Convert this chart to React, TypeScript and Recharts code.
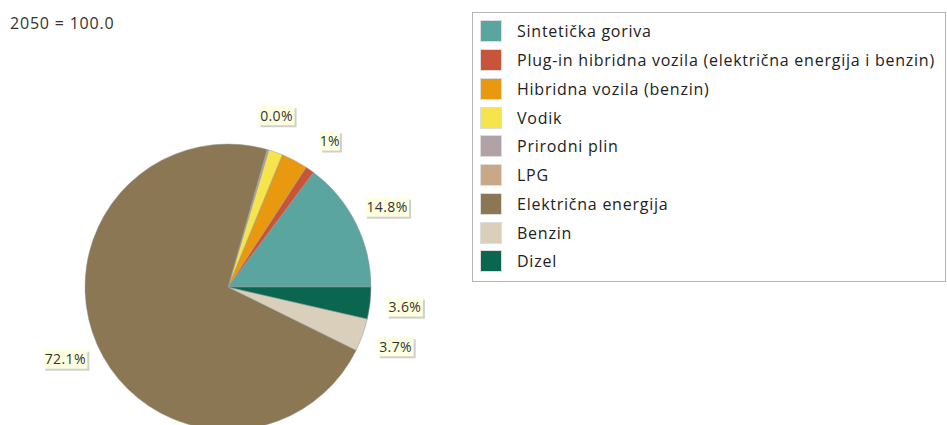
import React from 'react';
import { PieChart, Pie, Cell, Legend } from 'recharts';

const names = [
  'Sintetička goriva',
  'Plug-in hibridna vozila (električna energija i benzin)',
  'Hibridna vozila (benzin)',
  'Vodik',
  'Prirodni plin',
  'LPG',
  'Električna energija',
  'Benzin',
  'Dizel',
];
const values = [14.8, 1.0, 3.0, 1.6, 0.2, 0.0, 72.1, 3.7, 3.6];
const sliceLabels = ['14.8%', '1%', '', '', '', '0.0%', '72.1%', '3.7%', '3.6%'];
const colors = [
  '#5ba5a0',
  '#c8553a',
  '#e8990f',
  '#f5e44b',
  '#b1a2a5',
  '#caa787',
  '#8b7753',
  '#dacfba',
  '#0b6650',
];
const title = '2050 = 100.0';

const FONT = '"Open Sans", "Noto Sans", sans-serif';
const RAD = Math.PI / 180;

const chartData = names.map((name, i) => ({ name, value: values[i] }));

const renderLabel = (props: any) => {
  const { cx, cy, midAngle, outerRadius, index } = props;
  const text = sliceLabels[index];
  if (!text) return null;
  const r = outerRadius + 35;
  const x = cx + r * Math.cos(-midAngle * RAD);
  const y = cy + r * Math.sin(-midAngle * RAD);
  const w = text.length * 8 + 4;
  const h = 19;
  return (
    <g key={`lbl-${index}`}>
      <rect x={x - w / 2 + 2} y={y - h / 2 + 2} width={w} height={h} fill="#cfcfcf" />
      <rect x={x - w / 2} y={y - h / 2} width={w} height={h} fill="#ffffe1" />
      <text
        x={x}
        y={y + 5}
        textAnchor="middle"
        fontSize={14}
        letterSpacing={0.4}
        fontFamily={FONT}
        fill="#333"
      >
        {text}
      </text>
    </g>
  );
};

const LegendBox = () => (
  <div
    style={{
      boxSizing: 'border-box',
      width: 474,
      height: 270,
      border: '1px solid #b5b5b5',
      background: '#fff',
      paddingTop: 4,
      paddingLeft: 7,
      fontFamily: FONT,
    }}
  >
    {names.map((n, i) => (
      <div key={n} style={{ display: 'flex', alignItems: 'center', height: 28.75 }}>
        <span
          style={{
            display: 'inline-block',
            width: 20,
            height: 20,
            background: colors[i],
            border: '1px solid #ddd',
          }}
        />
        <span style={{ marginLeft: 15, fontSize: 16, letterSpacing: 0.75, color: '#222' }}>{n}</span>
      </div>
    ))}
  </div>
);

export default function App() {
  return (
    <div style={{ position: 'absolute', left: 0, top: 0, width: 947, height: 425, background: '#fff', overflow: 'hidden' }}>
      <div
        style={{
          position: 'absolute',
          left: 10,
          top: 12,
          fontFamily: FONT,
          fontSize: 16,
          letterSpacing: 0.8,
          color: '#333',
          zIndex: 2,
        }}
      >
        {title}
      </div>
      <PieChart width={947} height={425} margin={{ top: 0, right: 0, bottom: 0, left: 0 }}>
        <Pie
          data={chartData}
          dataKey="value"
          nameKey="name"
          cx={228}
          cy={287}
          outerRadius={143}
          startAngle={0}
          endAngle={360}
          stroke="#9a9a9a"
          strokeWidth={0.5}
          label={renderLabel}
          labelLine={false}
          isAnimationActive={false}
        >
          {chartData.map((d, i) => (
            <Cell key={d.name} fill={colors[i]} />
          ))}
        </Pie>
        <Legend
          content={() => <LegendBox />}
          wrapperStyle={{ position: 'absolute', left: 472, top: 12, width: 474, height: 270 }}
        />
      </PieChart>
    </div>
  );
}
